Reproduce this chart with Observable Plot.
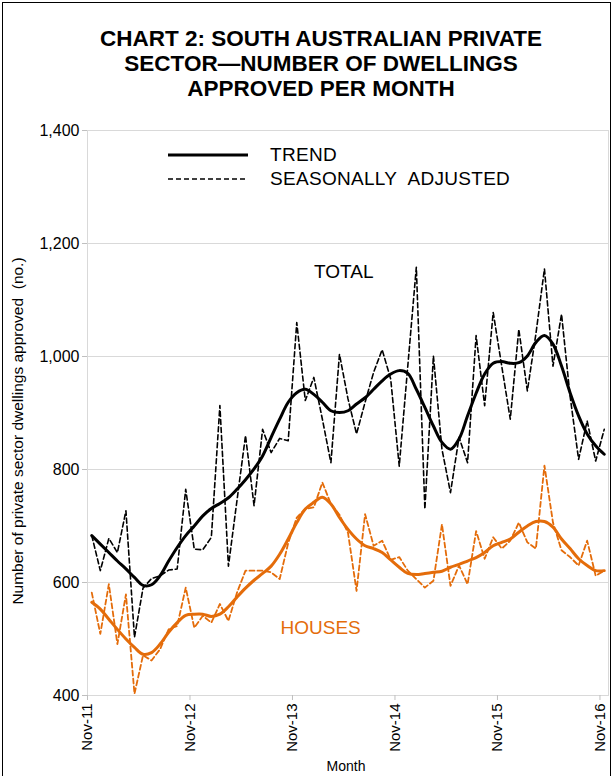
<!DOCTYPE html>
<html>
<head>
<meta charset="utf-8">
<script src="https://cdn.jsdelivr.net/npm/d3@7"></script>
<script src="https://cdn.jsdelivr.net/npm/@observablehq/plot@0.6"></script>
<style>
  body { margin: 0; background: #fff; font-family: "Liberation Sans", Arial, sans-serif; }
  #wrap { position: relative; width: 616px; height: 776px; overflow: hidden; background: #fff; }
  #border { position: absolute; left: 2px; top: 2px; width: 609px; height: 800px; border: 1px solid #000; box-sizing: border-box; }
  #title { position: absolute; left: 0; top: 26px; width: 642px; text-align: center; font-weight: bold; font-size: 22.5px; line-height: 25px; color: #000; }
  #chart { position: absolute; left: 0; top: 110px; }
  .leg { position: absolute; font-size: 19px; color: #000; line-height: 20px; letter-spacing: 0.3px; word-spacing: 6px; }
  #ylab { position: absolute; left: 18px; top: 431px; transform: translate(-50%, -50%) rotate(-90deg); white-space: nowrap; font-size: 15.5px; }
  #xlab { position: absolute; left: 346px; top: 758px; transform: translateX(-50%); font-size: 14px; }
</style>
</head>
<body>
<div id="wrap">
  <div id="border"></div>
  <div id="title">CHART 2: SOUTH AUSTRALIAN PRIVATE<br>SECTOR—NUMBER OF DWELLINGS<br>APPROVED PER MONTH</div>
  <div id="chart"></div>
  <svg style="position:absolute;left:0;top:0" width="616" height="200">
    <line x1="168" x2="248" y1="155" y2="155" stroke="#000" stroke-width="3"/>
    <line x1="168" x2="248" y1="179" y2="179" stroke="#000" stroke-width="1.4" stroke-dasharray="5,3"/>
  </svg>
  <div class="leg" style="left:270px;top:145px">TREND</div>
  <div class="leg" style="left:270px;top:169px">SEASONALLY ADJUSTED</div>
  <div id="ylab">Number of private sector dwellings approved&nbsp; (no.)</div>
  <div id="xlab">Month</div>
</div>
<script>
// Month index 0 = Nov-11 ... 60 = Nov-16
const xTickLabels = ["Nov-11", "Nov-12", "Nov-13", "Nov-14", "Nov-15", "Nov-16"];
const xTickPos = [-0.5, 11.5, 23.5, 35.5, 47.5, 59.5];
const yTicks = [400, 600, 800, 1000, 1200, 1400];

const totalTrend = [683, 668, 653, 638, 624, 609, 595, 596, 612, 638,
  662, 683, 700, 718, 731, 740, 750, 765, 782, 801,
  824, 857, 889, 919, 936, 942, 933, 919, 904, 901,
  904, 916, 927, 942, 957, 969, 975, 970, 942, 910,
  877, 848, 836, 854, 895, 935, 969, 988, 991, 988,
  989, 1001, 1025, 1037, 1022, 983, 936, 895, 863, 842,
  827];
const totalSA = [683, 621, 678, 653, 727, 503, 590, 607, 612, 622,
  624, 765, 659, 658, 680, 913, 629, 745, 860, 736,
  871, 830, 855, 851, 1060, 922, 963, 889, 812, 1004,
  925, 863, 919, 972, 1012, 960, 806, 983, 1158, 730,
  1001, 836, 759, 857, 812, 1037, 913, 1078, 983, 889,
  1048, 939, 1040, 1155, 983, 1075, 930, 818, 886, 815,
  871];
const housesTrend = [565, 553, 535, 517, 500, 485, 473, 476, 491, 512,
  529, 542, 544, 544, 540, 544, 557, 574, 590, 604,
  616, 629, 650, 677, 706, 730, 742, 751, 739, 715,
  694, 677, 665, 660, 653, 640, 627, 616, 614, 616,
  618, 620, 627, 632, 638, 644, 653, 665, 671, 677,
  689, 700, 708, 708, 698, 677, 660, 642, 630, 621,
  621];
const housesSA = [582, 509, 597, 491, 579, 403, 471, 462, 482, 517,
  523, 591, 520, 541, 529, 562, 532, 582, 621, 621,
  621, 618, 606, 670, 715, 730, 733, 777, 739, 720,
  688, 585, 721, 665, 674, 640, 645, 621, 606, 591,
  603, 703, 594, 630, 597, 691, 642, 680, 660, 674,
  706, 671, 660, 807, 706, 657, 645, 630, 674, 612,
  621];

const seriesLabels = [
  {label: "TOTAL", x: 29.5, y: 1150, color: "#000000"},
  {label: "HOUSES", x: 26.8, y: 520, color: "#E46C0A"}
];

const orange = "#E46C0A";
const toRows = arr => arr.map((v, i) => ({i, v}));

const chart = Plot.plot({
  width: 616,
  height: 666,
  marginTop: 20,
  marginBottom: 81,
  marginLeft: 87,
  marginRight: 8,
  style: {fontFamily: "'Liberation Sans', Arial, sans-serif", background: "transparent"},
  x: {domain: [-0.5, 60.5]},
  y: {domain: [400, 1400]},
  marks: [
    Plot.gridY(yTicks, {stroke: "#d9d9d9", strokeOpacity: 1}),
    Plot.frame({stroke: "#d9d9d9"}),
    Plot.axisY({ticks: yTicks, tickFormat: d3.format(","), tickSize: 5, tickPadding: 3,
      stroke: "#bfbfbf", fill: "#000", fontSize: 16, label: null}),
    Plot.axisX({ticks: xTickPos, tickFormat: d => xTickLabels[Math.round((d + 0.5) / 12)],
      tickRotate: -90, tickSize: 5, tickPadding: 3, stroke: "#bfbfbf", fill: "#000", fontSize: 15, label: null}),
    Plot.line(toRows(housesSA), {x: "i", y: "v", stroke: orange, strokeWidth: 1.8, strokeDasharray: "5,3"}),
    Plot.line(toRows(housesTrend), {x: "i", y: "v", stroke: orange, strokeWidth: 3, curve: "catmull-rom"}),
    Plot.line(toRows(totalSA), {x: "i", y: "v", stroke: "#000", strokeWidth: 1.6, strokeDasharray: "5,3"}),
    Plot.line(toRows(totalTrend), {x: "i", y: "v", stroke: "#000", strokeWidth: 3, curve: "catmull-rom"}),
    Plot.text(seriesLabels, {x: "x", y: "y", text: "label", fill: "color", fontSize: 19})
  ]
});
document.getElementById("chart").appendChild(chart);
</script>
</body>
</html>
